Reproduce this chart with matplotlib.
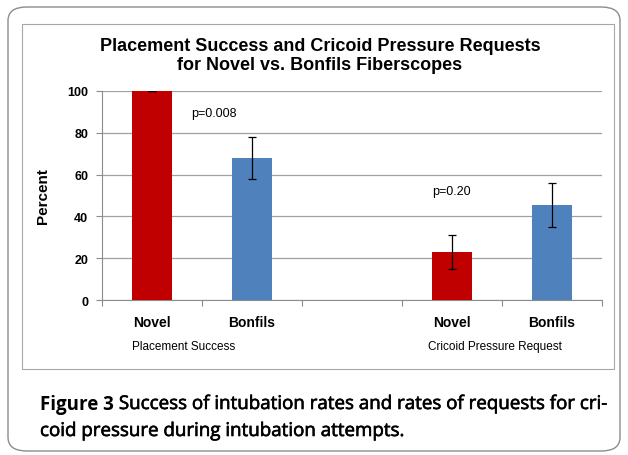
import matplotlib.pyplot as plt
import matplotlib.patheffects as pe
import numpy as np
from matplotlib.patches import FancyBboxPatch, Rectangle

# data
devices = ['Novel', 'Bonfils', 'Novel', 'Bonfils']
positions = [0, 1, 3, 4]
percent = [100, 68, 23, 45.5]
errors = [0, 10, 8.3, 10.6]
bar_colors = ['#C00000', '#4F81BD', '#C00000', '#4F81BD']
groups = ['Placement Success', 'Cricoid Pressure Request']
p_values = ['p=0.008', 'p=0.20']

W, H = 628, 456
fig = plt.figure(figsize=(W / 100, H / 100), dpi=100)

# outer rounded frame and inner chart frame
fig.patches.append(FancyBboxPatch((8 / W, 4 / H), 612 / W, 444 / H,
                                  boxstyle='round,pad=0,rounding_size=0.03',
                                  transform=fig.transFigure, fill=False,
                                  edgecolor='#8c8c8c', linewidth=1.0))
fig.patches.append(Rectangle((22 / W, (H - 370) / H), 592 / W, 345 / H,
                             transform=fig.transFigure, fill=False,
                             edgecolor='#a6a6a6', linewidth=0.8))

ax = fig.add_axes([102 / W, (H - 301) / H, 500 / W, 209 / H])
ax.bar(positions, percent, width=0.4, color=bar_colors, zorder=3)
ax.errorbar(positions, percent, yerr=errors, fmt='none', ecolor='black',
            elinewidth=0.9, capsize=3, capthick=0.9, zorder=4)

ax.set_xlim(-0.5, 4.5)
ax.set_ylim(0, 100)
ax.set_yticks(np.arange(0, 101, 20))
ax.grid(axis='y', color='#a0a0a0', linewidth=0.9, zorder=0)
ax.set_xticks(np.arange(-0.5, 4.6, 1))
ax.set_xticklabels([])
for side in ['top', 'right']:
    ax.spines[side].set_visible(False)
for side in ['left', 'bottom']:
    ax.spines[side].set_color('#8c8c8c')
ax.tick_params(axis='x', length=4, color='#8c8c8c', direction='out')
ax.tick_params(axis='y', length=4, color='#8c8c8c', direction='out', pad=6,
               labelsize=9)
for lab in ax.get_yticklabels():
    lab.set_fontweight('bold')
    lab.set_family('Liberation Sans')

# category labels and group labels
for x, name in zip(positions, devices):
    ax.text(x, -10.5, name, ha='center', va='center', fontsize=10,
            fontweight='bold', family='Liberation Sans')
ax.text(-0.2, -22, groups[0], ha='left', va='center', fontsize=8.5,
        family='Liberation Sans')
ax.text(2.76, -22, groups[1], ha='left', va='center', fontsize=8.5,
        family='Liberation Sans')

ax.text(0.39, 89.5, p_values[0], ha='left', va='center', fontsize=9,
        family='Liberation Sans')
ax.text(2.8, 52, p_values[1], ha='left', va='center', fontsize=9,
        family='Liberation Sans')

ax.set_ylabel('Percent', fontsize=11, fontweight='bold',
              family='Liberation Sans', labelpad=12)

fig.text(320 / W, 1 - 56 / H,
         'Placement Success and Cricoid Pressure Requests\nfor Novel vs. Bonfils Fiberscopes',
         ha='center', va='center', fontsize=13, fontweight='bold',
         family='Liberation Sans', linespacing=1.1)

# caption
semi = [pe.withStroke(linewidth=0.45, foreground='black')]
cap = fig.text(40 / W, 1 - 405 / H, 'Figure 3', ha='left', va='center',
               fontsize=13.5, fontweight='bold', family='Open Sans')
fig.canvas.draw()
bb = cap.get_window_extent()
fig.text((bb.x1 + 5) / W, 1 - 405 / H,
         'Success of intubation rates and rates of requests for cri-',
         ha='left', va='center', fontsize=13.5, family='Open Sans',
         path_effects=semi)
fig.text(40 / W, 1 - 432 / H, 'coid pressure during intubation attempts.',
         ha='left', va='center', fontsize=13.5, family='Open Sans',
         path_effects=semi)

fig.savefig('out.png', dpi=100)
